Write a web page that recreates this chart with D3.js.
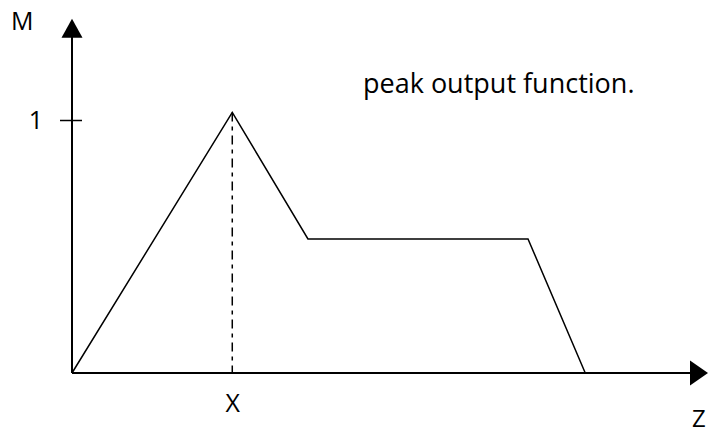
<!DOCTYPE html>
<html>
<head>
<meta charset="utf-8">
<script src="https://cdn.jsdelivr.net/npm/d3@7"></script>
<style>
  body { margin: 0; background: #fff; }
  svg text { font-family: "Open Sans", "Noto Sans", sans-serif; fill: #000; }
</style>
</head>
<body>
<div id="chart"></div>
<script>
// membership function vertices (z, M)
const zValues = [0, 25.2, 37.1, 71.7, 80.7];
const mValues = [0, 1.03, 0.53, 0.53, 0];
const peakIndex = 1;
const yTicks = [1];
const yTickLabels = ["1"];
const xTickLabels = ["X"];
const axisLabels = { y: "M", x: "Z" };
const note = "peak output function.";

const width = 710, height = 435;
const origin = { x: 72, y: 373 };

const svg = d3.select("#chart").append("svg")
    .attr("width", width)
    .attr("height", height);

const x = d3.scaleLinear().domain([0, 100]).range([origin.x, 708]);
const y = d3.scaleLinear().domain([0, 1]).range([origin.y, 120]);
const yTop = 1.40;

// axes lines
svg.append("line")
    .attr("x1", x(0)).attr("y1", y(0))
    .attr("x2", x(0)).attr("y2", y(yTop) + 16)
    .attr("stroke", "#000").attr("stroke-width", 2);
svg.append("line")
    .attr("x1", x(0)).attr("y1", y(0))
    .attr("x2", x(100) - 16).attr("y2", y(0))
    .attr("stroke", "#000").attr("stroke-width", 2);

// arrow heads
svg.append("path")
    .attr("d", `M${x(0)},${y(yTop)}L${x(0) - 10.5},${y(yTop) + 19}L${x(0) + 10.5},${y(yTop) + 19}Z`)
    .attr("fill", "#000");
svg.append("path")
    .attr("d", `M${x(100)},${y(0)}L${x(100) - 18},${y(0) - 12.5}L${x(100) - 18},${y(0) + 12.5}Z`)
    .attr("fill", "#000");

// y tick "1"
const yAxis = svg.append("g")
    .attr("transform", `translate(${x(0)},0)`)
    .call(d3.axisLeft(y).tickValues(yTicks)
        .tickFormat((d, i) => yTickLabels[i])
        .tickSizeInner(12).tickSizeOuter(0).tickPadding(17));
yAxis.select(".domain").remove();
yAxis.selectAll(".tick line").attr("x1", 10).attr("stroke", "#000").attr("stroke-width", 1.5);
yAxis.selectAll(".tick text").style("font-size", "25px").style("font-family", null);

// x tick "X" under the peak
const xAxis = svg.append("g")
    .attr("transform", `translate(0,${y(0)})`)
    .call(d3.axisBottom(x).tickValues([zValues[peakIndex]])
        .tickFormat((d, i) => xTickLabels[i])
        .tickSize(0).tickPadding(21));
xAxis.select(".domain").remove();
xAxis.selectAll(".tick text").style("font-size", "25px").style("font-family", null);

// dashed drop line from the peak
svg.append("line")
    .attr("x1", x(zValues[peakIndex])).attr("y1", y(mValues[peakIndex]))
    .attr("x2", x(zValues[peakIndex])).attr("y2", y(0))
    .attr("stroke", "#000").attr("stroke-width", 1.5)
    .attr("stroke-dasharray", "9,5,4,5");

// the membership curve
const pts = zValues.map((z, i) => ({ z, m: mValues[i] }));
const line = d3.line().x(d => x(d.z)).y(d => y(d.m));
svg.append("path")
    .datum(pts)
    .attr("d", line)
    .attr("fill", "none")
    .attr("stroke", "#000")
    .attr("stroke-width", 1.5);

// axis names and note
svg.append("text").attr("x", 11).attr("y", 30)
    .style("font-size", "25px").text(axisLabels.y);
svg.append("text").attr("x", 692).attr("y", 427)
    .style("font-size", "24px").text(axisLabels.x);
svg.append("text").attr("x", 363).attr("y", 93)
    .style("font-size", "27px").text(note);
</script>
</body>
</html>
